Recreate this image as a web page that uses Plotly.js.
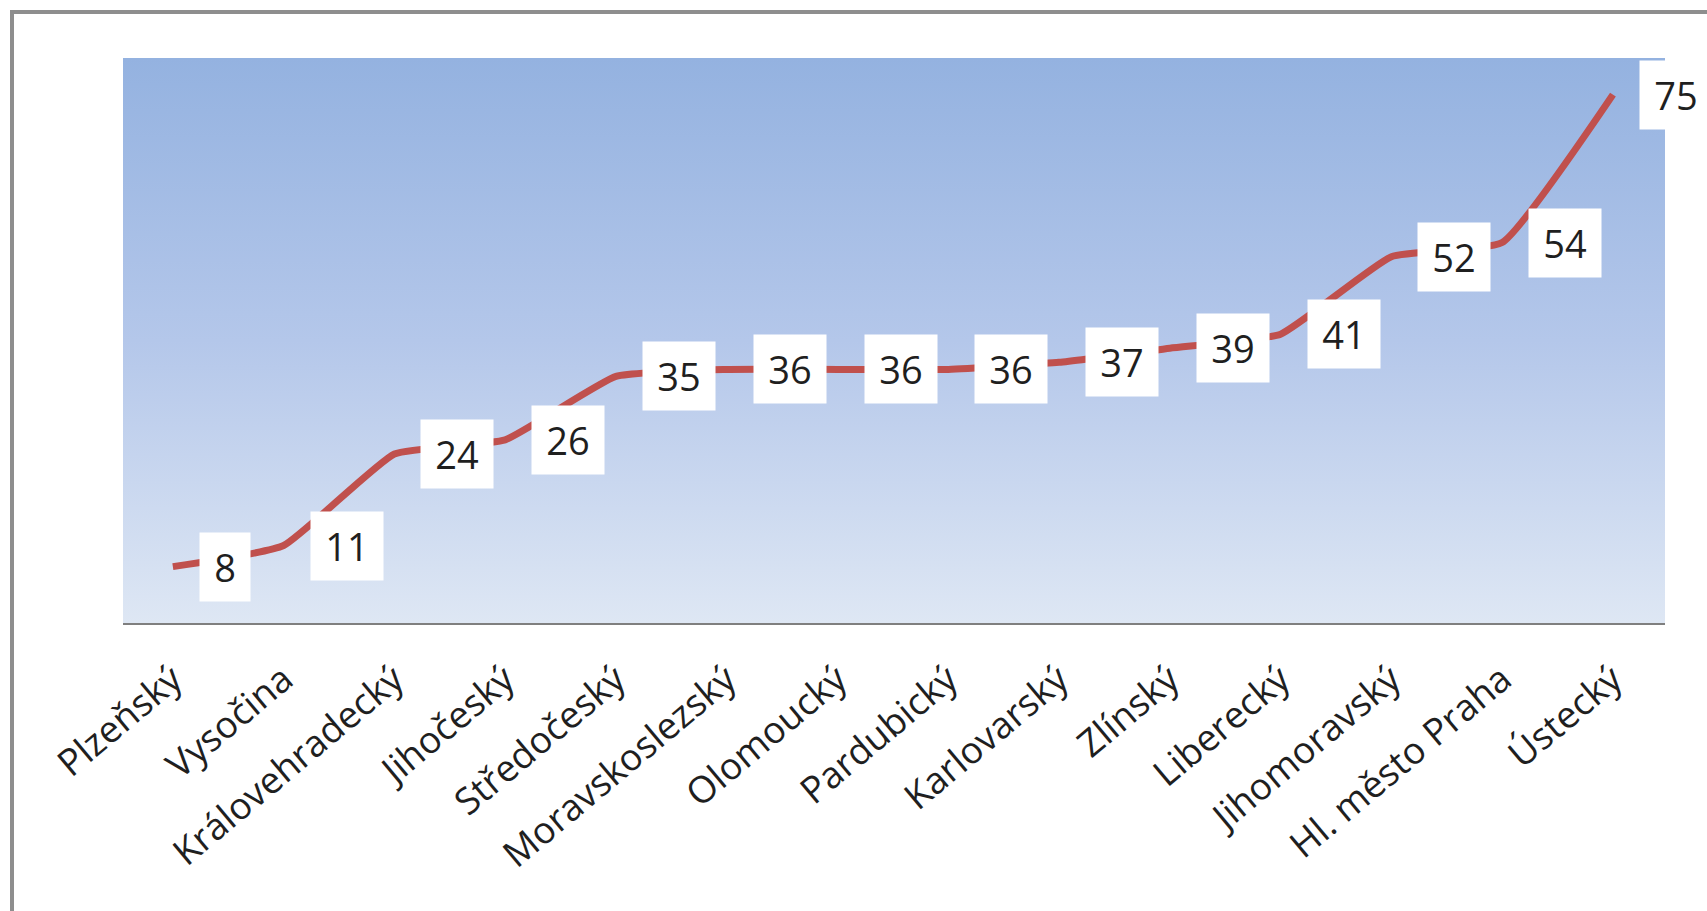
<!DOCTYPE html>
<html>
<head>
<meta charset="utf-8">
<script src="https://cdn.plot.ly/plotly-3.0.1.min.js"></script>
<style>
  html, body { margin: 0; padding: 0; background: #fff; overflow: hidden; }
  #chart { width: 1707px; height: 911px; }
  .bar { position: absolute; background: #8e8e8e; pointer-events: none; }
  #barTop { left: 10px; top: 10px; width: 1697px; height: 4px; }
  #barLeft { left: 10px; top: 10px; width: 4px; height: 901px; }
</style>
</head>
<body>
<div id="chart"></div>
<div id="barTop" class="bar"></div>
<div id="barLeft" class="bar"></div>
<script>
const regions = ['Plzeňský', 'Vysočina', 'Královehradecký', 'Jihočeský', 'Středočeský',
  'Moravskoslezský', 'Olomoucký', 'Pardubický', 'Karlovarský', 'Zlínský',
  'Liberecký', 'Jihomoravský', 'Hl. město Praha', 'Ústecký'];
const values = [8, 11, 24, 26, 35, 36, 36, 36, 37, 39, 41, 52, 54, 75];

const FONT = '"Open Sans", "Noto Sans", sans-serif';

const svg = "<svg xmlns='http://www.w3.org/2000/svg' width='100' height='100' preserveAspectRatio='none'>" +
  "<defs><linearGradient id='g' x1='0' y1='0' x2='0' y2='1'>" +
  "<stop offset='0' stop-color='#94b2e0'/>" +
  "<stop offset='0.5' stop-color='#b4c7ea'/>" +
  "<stop offset='1' stop-color='#dee7f4'/>" +
  "</linearGradient></defs><rect width='100' height='100' fill='url(#g)'/></svg>";
const bgUri = 'data:image/svg+xml;charset=utf-8,' + encodeURIComponent(svg);

const trace = {
  type: 'scatter',
  mode: 'lines',
  x: regions.map((_, i) => i),
  y: values,
  line: { color: '#c0504d', width: 7, shape: 'spline', smoothing: 0.4 },
  hoverinfo: 'skip',
  cliponaxis: false
};

const annotations = values.map((v, i) => ({
  x: i, y: v, xref: 'x', yref: 'y',
  text: '\u2009' + v + '\u2009',
  showarrow: false,
  xanchor: 'left', yanchor: 'middle',
  xshift: 26,
  bgcolor: '#ffffff',
  borderpad: 8,
  font: { family: FONT, size: 38, color: '#1f1f1f' }
}));

const layout = {
  width: 1707, height: 911,
  margin: { l: 123, r: 42, t: 58, b: 288, pad: 0 },
  paper_bgcolor: '#ffffff',
  plot_bgcolor: 'rgba(0,0,0,0)',
  showlegend: false,
  images: [{
    source: bgUri, xref: 'paper', yref: 'paper', x: 0, y: 1,
    sizex: 1, sizey: 1, sizing: 'stretch', xanchor: 'left', yanchor: 'top', layer: 'below'
  }],
  xaxis: {
    range: [-0.45, 13.47],
    tickmode: 'array',
    tickvals: regions.map((_, i) => i),
    ticktext: regions,
    tickangle: -40,
    ticks: '',
    ticklabelstandoff: 18,
    showgrid: false, zeroline: false,
    showline: true, linecolor: '#7f7f7f', linewidth: 2,
    tickfont: { family: FONT, size: 37, color: '#1f1f1f' },
    fixedrange: true
  },
  yaxis: {
    range: [0, 80.2],
    showticklabels: false, showgrid: false, zeroline: false, showline: false,
    ticks: '', fixedrange: true
  },
  annotations: annotations
};

Plotly.newPlot('chart', [trace], layout, { displayModeBar: false, staticPlot: true });
</script>
</body>
</html>
